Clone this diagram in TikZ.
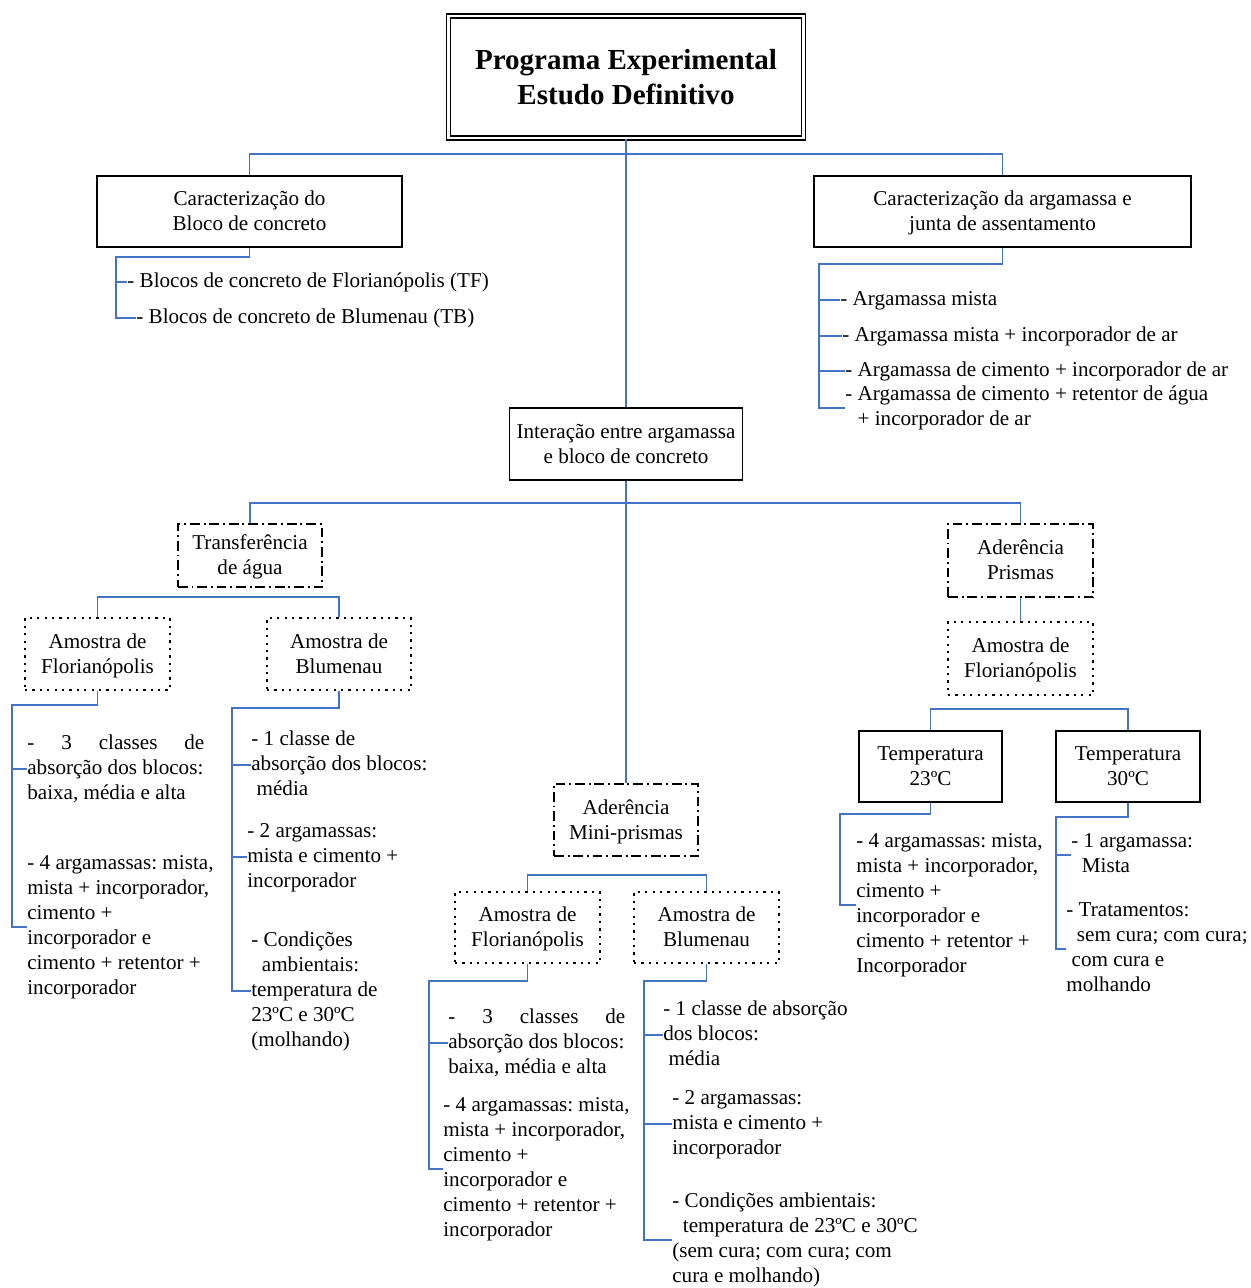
\documentclass[tikz,border=0pt]{standalone}
\usepackage{fontspec}
\setmainfont{Liberation Serif}
\usepackage{xcolor}
\usepackage{tikz}

\definecolor{linkblue}{RGB}{68,114,196}
\newdimen\pxu
\pxu=0.568pt

\begin{document}
\begin{tikzpicture}[x=0.568pt, y=-0.568pt,
	every node/.style={font=\fontsize{12}{14.2}\selectfont, align=center, inner sep=0pt,
		execute at begin node={\frenchspacing\spaceskip=\fontdimen2\font\strut},
		execute at end node=\strut},
	wh/.style 2 args={text width=#1*0.568pt, minimum height=#2*0.568pt,
		execute at begin node=\rule{0pt}{0.85\baselineskip}},
	titlebox/.style={draw, double, double distance=1.6pt, line width=0.7pt,
		font=\bfseries\fontsize{16.5}{19.9}\selectfont},
	box/.style={draw, line width=0.8pt},
	dashdotbox/.style={draw, line width=1.4pt, dash pattern=on 5.5pt off 2.2pt on 1.1pt off 2.2pt},
	dotbox/.style={draw, line width=1.3pt, dash pattern=on 1.3pt off 2.9pt},
	item/.style={anchor=west, align=left, text width=400*0.568pt},
	link/.style={draw=linkblue, line width=1.1pt}]
	 \useasboundingbox (0,0) rectangle (1250,1288);

	 % boxes
	 \node (prog) [titlebox, wh={355}{122}] at (626,77) {Programa Experimental\\Estudo Definitivo};
	 \node (bloco) [box, wh={305}{71}] at (249.5,211.5) {Caracterização do\\Bloco de concreto};
	 \node (arg) [box, wh={377}{71}] at (1002.5,211.5) {Caracterização da argamassa e\\junta de assentamento};
	 \node (inter) [box, wh={233}{72}] at (626,444) {Interação entre argamassa\\e bloco de concreto};
	 \node (agua) [dashdotbox, wh={144}{63}] at (250,555.5) {Transferência\\de água};
	 \node (aflo) [dotbox, wh={145}{72}] at (97.5,654) {Amostra de\\Florianópolis};
	 \node (ablu) [dotbox, wh={144}{72}] at (339,654) {Amostra de\\Blumenau};
	 \node (prism) [dashdotbox, wh={145}{73}] at (1020.5,560.5) {Aderência\\Prismas};
	 \node (pflo) [dotbox, wh={145}{73}] at (1020.5,658.5) {Amostra de\\Florianópolis};
	 \node (t23) [box, wh={143}{71}] at (930.5,766.5) {Temperatura\\23ºC};
	 \node (t30) [box, wh={144}{71}] at (1128,766.5) {Temperatura\\30ºC};
	 \node (mini) [dashdotbox, wh={144}{72}] at (626,820) {Aderência\\Mini-prismas};
	 \node (mflo) [dotbox, wh={145}{71}] at (527.5,927.5) {Amostra de\\Florianópolis};
	 \node (mblu) [dotbox, wh={145}{71}] at (706.5,927.5) {Amostra de\\Blumenau};

	 % tree
	 \draw[link] (prog) -- (inter);
	 \draw[link] (prog.south) ++(0,15) -| (bloco.north);
	 \draw[link] (prog.south) ++(0,15) -| (arg.north);
	 \draw[link] (inter) -- (mini);
	 \draw[link] (inter.south) ++(0,22) -| (agua.north);
	 \draw[link] (inter.south) ++(0,22) -| (prism.north);
	 \draw[link] (agua.south) ++(0,9) -| (aflo.north);
	 \draw[link] (agua.south) ++(0,9) -| (ablu.north);
	 \draw[link] (prism) -- (pflo);
	 \draw[link] (pflo.south) ++(0,13) -| (t23.north);
	 \draw[link] (pflo.south) ++(0,13) -| (t30.north);
	 \draw[link] (mini.south) ++(0,18) -| (mflo.north);
	 \draw[link] (mini.south) ++(0,18) -| (mblu.north);

	 % blocos
	 \node (b1) [item] at (127,282) {- Blocos de concreto de Florianópolis (TF)};
	 \node (b2) [item] at (136,318) {- Blocos de concreto de Blumenau (TB)};
	 \coordinate (bk) at (116,257);
	 \draw[link] (bloco.south) |- (bk) |- (b2.west);
	 \draw[link] (bk |- b1.west) -- (b1.west);

	 % argamassas
	 \node (a1) [item] at (840,300) {- Argamassa mista};
	 \node (a2) [item] at (842,336) {- Argamassa mista + incorporador de ar};
	 \node (a3) [item] at (845,371) {- Argamassa de cimento + incorporador de ar};
	 \node (a4) [item] at (845,408) {- Argamassa de cimento + retentor de água\\\hspace*{7pt}+ incorporador de ar};
	 \coordinate (ak) at (819,264);
	 \draw[link] (arg.south) |- (ak) |- (a4.west);
	 \draw[link] (ak |- a1.west) -- (a1.west);
	 \draw[link] (ak |- a2.west) -- (a2.west);
	 \draw[link] (ak |- a3.west) -- (a3.west);

	 % transferencia - florianopolis
	 \node (f1) [item] at (27,769) {\hbox to 177\pxu{-\hfill 3\hfill classes\hfill de}\\absorção dos blocos:\\baixa, média e alta};
	 \node (f2) [item] at (27,927) {- 4 argamassas: mista,\\mista + incorporador,\\cimento +\\incorporador e\\cimento + retentor +\\incorporador};
	 \coordinate (fk) at (12,705);
	 \draw[link] (aflo.south) |- (fk) |- (f2.west);
	 \draw[link] (fk |- f1.west) -- (f1.west);

	 % transferencia - blumenau
	 \node (u1) [item] at (251,765) {- 1 classe de\\absorção dos blocos:\\\hspace*{3pt}média};
	 \node (u2) [item] at (247,857) {- 2 argamassas:\\mista e cimento +\\incorporador};
	 \node (u3) [item] at (251,991) {- Condições\\\hspace*{6pt}ambientais:\\temperatura de\\23ºC e 30ºC\\(molhando)};
	 \coordinate (uk) at (232,708);
	 \draw[link] (ablu.south) |- (uk) |- (u3.west);
	 \draw[link] (uk |- u1.west) -- (u1.west);
	 \draw[link] (uk |- u2.west) -- (u2.west);

	 % prismas 23 C
	 \node (c1) [item] at (856,905) {- 4 argamassas: mista,\\mista + incorporador,\\cimento +\\incorporador e\\cimento + retentor +\\Incorporador};
	 \coordinate (ck) at (840,814);
	 \draw[link] (t23.south) |- (ck) |- (c1.west);

	 % prismas 30 C
	 \node (d1) [item] at (1071,855) {- 1 argamassa:\\\hspace*{6pt}Mista};
	 \node (d2) [item] at (1066,949) {- Tratamentos:\\\hspace*{6pt}sem cura; com cura;\\\hspace*{3pt}com cura e\\molhando};
	 \coordinate (dk) at (1056,817);
	 \draw[link] (t30.south) |- (dk) |- (d2.west);
	 \draw[link] (dk |- d1.west) -- (d1.west);

	 % mini-prismas - florianopolis
	 \node (g1) [item] at (448,1043) {\hbox to 177\pxu{-\hfill 3\hfill classes\hfill de}\\absorção dos blocos:\\baixa, média e alta};
	 \node (g2) [item] at (443,1169) {- 4 argamassas: mista,\\mista + incorporador,\\cimento +\\incorporador e\\cimento + retentor +\\incorporador};
	 \coordinate (gk) at (429,981);
	 \draw[link] (mflo.south) |- (gk) |- (g2.west);
	 \draw[link] (gk |- g1.west) -- (g1.west);

	 % mini-prismas - blumenau
	 \node (h1) [item] at (663,1035) {- 1 classe de absorção\\dos blocos:\\\hspace*{3pt}média};
	 \node (h2) [item] at (672,1124) {- 2 argamassas:\\mista e cimento +\\incorporador};
	 \node (h3) [item] at (672,1240) {- Condições ambientais:\\\hspace*{6pt}temperatura de 23ºC e 30ºC\\(sem cura; com cura; com\\cura e molhando)};
	 \coordinate (hk) at (644,981);
	 \draw[link] (mblu.south) |- (hk) |- (h3.west);
	 \draw[link] (hk |- h1.west) -- (h1.west);
	 \draw[link] (hk |- h2.west) -- (h2.west);
\end{tikzpicture}
\end{document}
